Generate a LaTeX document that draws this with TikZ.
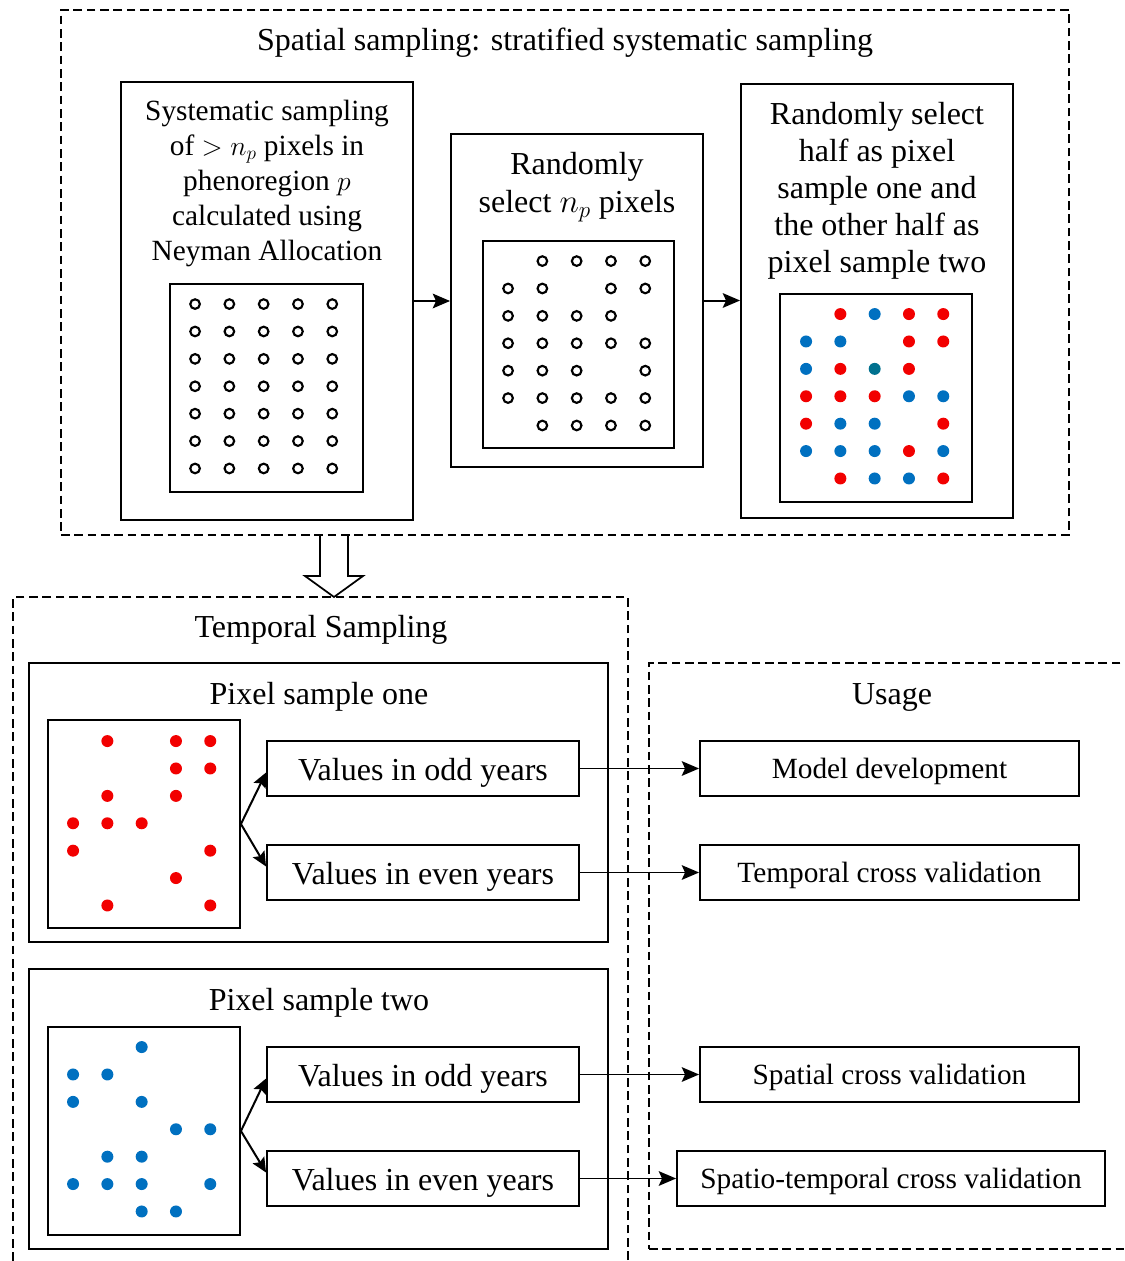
\documentclass[tikz,border=0pt]{standalone}
\usepackage{fontspec}
\setmainfont{Liberation Serif}
\usetikzlibrary{arrows.meta,fit,calc}
\definecolor{dred}{HTML}{F20000}
\definecolor{dblue}{HTML}{0070C0}
\definecolor{dteal}{HTML}{00718F}
\begin{document}
\begin{tikzpicture}[x=0.75pt,y=-0.75pt,
  box/.style={draw, line width=1.4pt, inner sep=0pt},
  dbox/.style={draw, line width=1.1pt, dash pattern=on 6.5pt off 3.5pt, inner sep=0pt},
  arr/.style={line width=1.5pt, -{Stealth[length=13pt,width=11pt,inset=2.5pt]}},
  uarr/.style={line width=1.3pt, -{Stealth[length=13pt,width=11pt,inset=2.5pt]}},
  farr/.style={line width=1.5pt, -{Stealth[length=11pt,width=10pt,inset=2pt]}},
  big/.style={font=\fontsize{24}{28.5}\selectfont, text height=16.8pt, text depth=6pt},
  mid/.style={font=\fontsize{22}{26.25}\selectfont, text height=15.4pt, text depth=5.5pt},
  odot/.style={draw, line width=1.6pt},
]
\useasboundingbox (0,0) rectangle (1125,1261);
\def\redlist{2/1,4/1,5/1,4/2,5/2,2/3,4/3,1/4,2/4,3/4,1/5,5/5,4/6,2/7,5/7}
\def\bluelist{3/1,1/2,2/2,1/3,4/4,5/4,2/5,3/5,1/6,2/6,3/6,5/6,3/7,4/7}
\def\dx{34.3}\def\dy{27.4}
\def\ro{3.6pt}

% ---------- spatial sampling ----------
\node[dbox, fit={(61,10) (1069,535)}] (sp) {};
\node[big] (sptitle) at (565,43) {Spatial sampling: stratified systematic sampling};

\node[box, fit={(121,82) (413,520)}] (b1) {};
\node[mid, align=center, text height=, text depth=] (b1t) at (267,183) {Systematic sampling\\ of $>n_p$ pixels in\\ phenoregion $p$\\ calculated using\\ Neyman Allocation};
\node[box, fit={(170,284) (363,492)}] (g1) {};

\node[box, fit={(451,134) (703,467)}] (b2) {};
\node[big, align=center, text height=, text depth=] (b2t) at (577,187.5) {Randomly\\ select $n_p$ pixels};
\node[box, fit={(483,241) (674,448)}] (g2) {};

\node[box, fit={(741,84) (1013,518)}] (b3) {};
\node[big, align=center, text height=, text depth=, font=\fontsize{24}{27.75}\selectfont] (b3t) at (877,191) {Randomly select\\ half as pixel\\ sample one and\\ the other half as\\ pixel sample two};
\node[box, fit={(780,294) (972,502)}] (g3) {};

\draw[arr] (b1.east) -- (b1.east -| b2.west);
\draw[arr] (b2.east) -- (b2.east -| b3.west);

% ---------- hollow arrow ----------
\coordinate (ha) at (334,535);
\coordinate (hb) at (334,597);
\draw[line width=1.3pt, line join=miter] ($(ha)+(-14,0)$) -- ($(hb)+(-14,-21)$) -- ($(hb)+(-29,-21)$) -- (hb) -- ($(hb)+(29,-21)$) -- ($(hb)+(14,-21)$) -- ($(ha)+(14,0)$);

% ---------- temporal sampling ----------
\node[dbox, fit={(13,597) (628,1285)}] (ts) {};
\node[big] (tstitle) at (321,630) {Temporal Sampling};

\node[box, fit={(29,663) (608,942)}] (ps1) {};
\node[big] (ps1t) at (319,697) {Pixel sample one};
\node[box, fit={(48,720) (240,928)}] (g4) {};
\node[box, fit={(267,741) (579,796)}] (o1) {};
\node[big] (o1t) at ($(o1)+(0,5)$) {Values in odd years};
\node[box, fit={(267,845) (579,900)}] (e1) {};
\node[big] (e1t) at ($(e1)+(0,5)$) {Values in even years};

\node[box, fit={(29,969) (608,1249)}] (ps2) {};
\node[big] (ps2t) at (319,1003) {Pixel sample two};
\node[box, fit={(48,1027) (240,1235)}] (g5) {};
\node[box, fit={(267,1047) (579,1102)}] (o2) {};
\node[big] (o2t) at ($(o2)+(0,5)$) {Values in odd years};
\node[box, fit={(267,1151) (579,1206)}] (e2) {};
\node[big] (e2t) at ($(e2)+(0,5)$) {Values in even years};

% dots
\foreach \c in {1,...,5}{\foreach \r in {1,...,7}{
  \draw[odot] ($(g1.north west)+(26+\dx*\c-\dx,21+\dy*\r-\dy)$) circle[radius=\ro];}}
\foreach \c/\r in \redlist{
  \draw[odot] ($(g2.north west)+(26+\dx*\c-\dx,21+\dy*\r-\dy)$) circle[radius=\ro];
  \fill[dred] ($(g3.north west)+(27+\dx*\c-\dx,21+\dy*\r-\dy)$) circle[radius=4.5pt];
  \fill[dred] ($(g4.north west)+(26+\dx*\c-\dx,22+\dy*\r-\dy)$) circle[radius=4.5pt];}
\foreach \c/\r in \bluelist{
  \draw[odot] ($(g2.north west)+(26+\dx*\c-\dx,21+\dy*\r-\dy)$) circle[radius=\ro];
  \fill[dblue] ($(g3.north west)+(27+\dx*\c-\dx,21+\dy*\r-\dy)$) circle[radius=4.5pt];
  \fill[dblue] ($(g5.north west)+(26+\dx*\c-\dx,21+\dy*\r-\dy)$) circle[radius=4.5pt];}
\draw[odot] ($(g2.north west)+(26+\dx*2,21+\dy*2)$) circle[radius=\ro];
\fill[dteal] ($(g3.north west)+(27+\dx*2,21+\dy*2)$) circle[radius=4.5pt];
\fill[dblue] ($(g5.north west)+(26+\dx*2,21+\dy*2)$) circle[radius=4.5pt];

\draw[farr] (g4.east) -- ($(o1.west)+(0,4)$);
\draw[farr] (g4.east) -- ($(e1.west)+(0,-6)$);
\draw[farr] (g5.east) -- ($(o2.west)+(0,4)$);
\draw[farr] (g5.east) -- ($(e2.west)+(0,-6)$);

% ---------- usage ----------
\node[dbox, fit={(649,663) (1145,1249)}] (us) {};
\node[big] (ust) at (892,697) {Usage};
\node[box, fit={(700,741) (1079,796)}] (md) {};
\node[mid] (mdt) at ($(md)+(0,3)$) {Model development};
\node[box, fit={(700,845) (1079,900)}] (tcv) {};
\node[mid] (tcvt) at ($(tcv)+(0,3)$) {Temporal cross validation};
\node[box, fit={(700,1047) (1079,1102)}] (scv) {};
\node[mid] (scvt) at ($(scv)+(0,3)$) {Spatial cross validation};
\node[box, fit={(677,1151) (1105,1206)}] (stcv) {};
\node[mid] (stcvt) at ($(stcv)+(0,3)$) {Spatio-temporal cross validation};

\draw[uarr] (o1.east) -- (md.west);
\draw[uarr] (e1.east) -- (tcv.west);
\draw[uarr] (o2.east) -- (scv.west);
\draw[uarr] (e2.east) -- (stcv.west);
\end{tikzpicture}
\end{document}
